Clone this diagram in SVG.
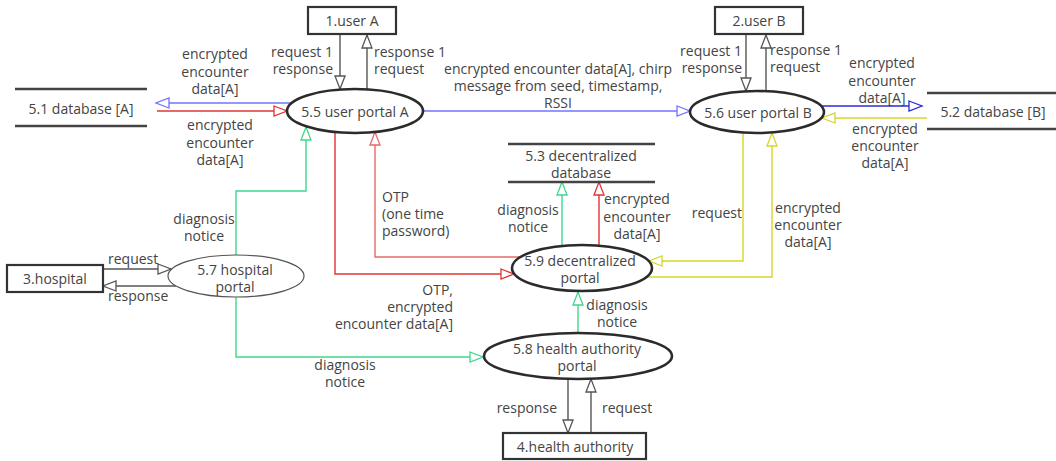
<svg xmlns="http://www.w3.org/2000/svg" width="1056" height="461" viewBox="0 0 1056 461">
  <style>
    text { font-family: "Open Sans", "Liberation Sans", Arial, sans-serif; font-size: 14px; fill: #444; }
    .mid { text-anchor: middle; }
    .end { text-anchor: end; }
    .ent { fill: #fff; stroke: #333; stroke-width: 2.2; }
    .proc { fill: #fff; stroke: #2b2b2b; stroke-width: 2.6; }
    .proc-thin { fill: #fff; stroke: #555; stroke-width: 1.2; }
    .store { stroke: #444; stroke-width: 2.6; }
    .c { fill: none; stroke-width: 1.4; }
    .gray { stroke: #555; marker-end: url(#ah-gray); }
    .blue { stroke: #7373ff; marker-end: url(#ah-blue); }
    .dblue { stroke: #2a2ad6; marker-end: url(#ah-dblue); }
    .red { stroke: #e03434; marker-end: url(#ah-red); }
    .lred { stroke: #e86a6a; marker-end: url(#ah-lred); }
    .green { stroke: #3ed88c; marker-end: url(#ah-green); }
    .yellow { stroke: #d6d62c; marker-end: url(#ah-yellow); }
  </style>
  <defs>
    <marker id="ah-gray" markerUnits="userSpaceOnUse" markerWidth="16" markerHeight="12" refX="14" refY="6" orient="auto"><path d="M1,1 L14,6 L1,11 Z" fill="#fff" stroke="#555" stroke-width="1.3"/></marker>
    <marker id="ah-blue" markerUnits="userSpaceOnUse" markerWidth="16" markerHeight="12" refX="14" refY="6" orient="auto"><path d="M1,1 L14,6 L1,11 Z" fill="#fff" stroke="#7373ff" stroke-width="1.3"/></marker>
    <marker id="ah-dblue" markerUnits="userSpaceOnUse" markerWidth="16" markerHeight="12" refX="14" refY="6" orient="auto"><path d="M1,1 L14,6 L1,11 Z" fill="#fff" stroke="#2a2ad6" stroke-width="1.3"/></marker>
    <marker id="ah-red" markerUnits="userSpaceOnUse" markerWidth="16" markerHeight="12" refX="14" refY="6" orient="auto"><path d="M1,1 L14,6 L1,11 Z" fill="#fff" stroke="#e03434" stroke-width="1.3"/></marker>
    <marker id="ah-lred" markerUnits="userSpaceOnUse" markerWidth="16" markerHeight="12" refX="14" refY="6" orient="auto"><path d="M1,1 L14,6 L1,11 Z" fill="#fff" stroke="#e86a6a" stroke-width="1.3"/></marker>
    <marker id="ah-green" markerUnits="userSpaceOnUse" markerWidth="16" markerHeight="12" refX="14" refY="6" orient="auto"><path d="M1,1 L14,6 L1,11 Z" fill="#fff" stroke="#3ed88c" stroke-width="1.3"/></marker>
    <marker id="ah-yellow" markerUnits="userSpaceOnUse" markerWidth="16" markerHeight="12" refX="14" refY="6" orient="auto"><path d="M1,1 L14,6 L1,11 Z" fill="#fff" stroke="#d6d62c" stroke-width="1.3"/></marker>
  </defs>

  <rect width="1056" height="461" fill="#fff"/>

  <!-- data flows -->
  <g id="connectors">
    <!-- user A <-> portal A -->
    <path class="c gray" d="M340,35 L340,89"/>
    <path class="c gray" d="M367,89 L367,35"/>
    <!-- user B <-> portal B -->
    <path class="c gray" d="M746,35 L746,91"/>
    <path class="c gray" d="M766,91 L766,35"/>
    <!-- hospital <-> hospital portal -->
    <path class="c gray" d="M103,269 L171,269"/>
    <path class="c gray" d="M176,286 L103,286"/>
    <!-- health authority <-> HA portal -->
    <path class="c gray" d="M568,379 L568,433"/>
    <path class="c gray" d="M591,433 L591,379"/>
    <!-- database A <-> portal A -->
    <path class="c blue" d="M291,103 L156,103"/>
    <path class="c red" d="M157,111 L287,111"/>
    <!-- portal A -> portal B -->
    <path class="c blue" d="M423,111 L690,111"/>
    <!-- portal B <-> database B -->
    <path class="c dblue" d="M821,106 L922,106"/>
    <path class="c yellow" d="M927,118 L822,118"/>
    <!-- portal B <-> decentralized portal -->
    <path class="c yellow" d="M743,133 L743,261 L649,261"/>
    <path class="c yellow" d="M646,277 L772,277 L772,133"/>
    <!-- hospital portal -> portal A / HA portal -->
    <path class="c green" d="M236,255 L236,191 L306,191 L306,127"/>
    <path class="c green" d="M236,297 L236,357 L483,357"/>
    <!-- HA portal -> decentralized portal -->
    <path class="c green" d="M578,333 L578,292"/>
    <!-- decentralized portal -> decentralized database -->
    <path class="c green" d="M562,246 L562,182"/>
    <path class="c red" d="M599,246 L599,182"/>
    <!-- portal A <-> decentralized portal -->
    <path class="c red" d="M335,132 L335,274 L514,274"/>
    <path class="c lred" d="M520,257 L375,257 L375,132"/>
  </g>

  <!-- flow labels -->
  <g id="labels">
    <text class="end" x="333" y="57">request 1</text>
    <text class="end" x="333" y="74">response</text>
    <text x="374" y="57">response 1</text>
    <text x="374" y="74">request</text>

    <text class="mid" x="215" y="59">encrypted</text>
    <text class="mid" x="215" y="77">encounter</text>
    <text class="mid" x="215" y="94">data[A]</text>
    <text class="mid" x="220" y="130">encrypted</text>
    <text class="mid" x="220" y="148">encounter</text>
    <text class="mid" x="220" y="165">data[A]</text>

    <text class="mid" x="558" y="74">encrypted encounter data[A], chirp</text>
    <text class="mid" x="558" y="91">message from seed, timestamp,</text>
    <text class="mid" x="558" y="108">RSSI</text>

    <text class="end" x="742" y="56">request 1</text>
    <text class="end" x="742" y="73">response</text>
    <text x="770" y="55">response 1</text>
    <text x="770" y="72">request</text>

    <text class="mid" x="882" y="68">encrypted</text>
    <text class="mid" x="882" y="86">encounter</text>
    <text class="mid" x="882" y="103">data[A]</text>
    <text class="mid" x="885" y="134">encrypted</text>
    <text class="mid" x="885" y="151">encounter</text>
    <text class="mid" x="885" y="168">data[A]</text>

    <text x="382" y="202">OTP</text>
    <text x="382" y="219">(one time</text>
    <text x="382" y="236">password)</text>

    <text class="mid" x="204" y="224">diagnosis</text>
    <text class="mid" x="204" y="241">notice</text>

    <text x="108" y="264">request</text>
    <text x="108" y="301">response</text>

    <text class="end" x="453" y="295">OTP,</text>
    <text class="end" x="453" y="312">encrypted</text>
    <text class="end" x="453" y="329">encounter data[A]</text>

    <text class="mid" x="528" y="215">diagnosis</text>
    <text class="mid" x="528" y="232">notice</text>
    <text class="mid" x="637" y="204">encrypted</text>
    <text class="mid" x="637" y="222">encounter</text>
    <text class="mid" x="637" y="239">data[A]</text>

    <text class="end" x="742" y="218">request</text>
    <text class="mid" x="808" y="213">encrypted</text>
    <text class="mid" x="808" y="230">encounter</text>
    <text class="mid" x="808" y="247">data[A]</text>

    <text class="mid" x="617" y="310">diagnosis</text>
    <text class="mid" x="617" y="327">notice</text>

    <text class="mid" x="345" y="370">diagnosis</text>
    <text class="mid" x="345" y="387">notice</text>

    <text class="end" x="557" y="413">response</text>
    <text x="602" y="413">request</text>
  </g>

  <!-- external entities -->
  <g id="user-a">
    <rect class="ent" x="308" y="7" width="88" height="27"/>
    <text class="mid" x="352" y="26">1.user A</text>
  </g>
  <g id="user-b">
    <rect class="ent" x="715" y="7" width="88" height="27"/>
    <text class="mid" x="759" y="26">2.user B</text>
  </g>
  <g id="hospital">
    <rect class="ent" x="7" y="265" width="96" height="27"/>
    <text class="mid" x="55" y="284">3.hospital</text>
  </g>
  <g id="health-authority">
    <rect class="ent" x="503" y="433" width="143" height="26"/>
    <text class="mid" x="575" y="452">4.health authority</text>
  </g>

  <!-- data stores -->
  <g id="database-a">
    <line class="store" x1="15" y1="89" x2="147" y2="89"/>
    <line class="store" x1="15" y1="126" x2="147" y2="126"/>
    <text class="mid" x="81" y="114">5.1 database [A]</text>
  </g>
  <g id="database-b">
    <line class="store" x1="927" y1="93" x2="1056" y2="93"/>
    <line class="store" x1="927" y1="129" x2="1056" y2="129"/>
    <text class="mid" x="993" y="117">5.2 database [B]</text>
  </g>
  <g id="decentralized-db">
    <line class="store" x1="508" y1="144" x2="655" y2="144"/>
    <line class="store" x1="508" y1="182" x2="655" y2="182"/>
    <text class="mid" x="581" y="161">5.3 decentralized</text>
    <text class="mid" x="581" y="178">database</text>
  </g>

  <!-- processes -->
  <g id="user-portal-a">
    <ellipse class="proc" cx="355" cy="111" rx="68" ry="22"/>
    <text class="mid" x="355" y="117">5.5 user portal A</text>
  </g>
  <g id="user-portal-b">
    <ellipse class="proc" cx="757" cy="112" rx="67" ry="21"/>
    <text class="mid" x="758" y="118">5.6 user portal B</text>
  </g>
  <g id="hospital-portal">
    <ellipse class="proc-thin" cx="236" cy="276" rx="68" ry="21"/>
    <text class="mid" x="235" y="275">5.7 hospital</text>
    <text class="mid" x="235" y="292">portal</text>
  </g>
  <g id="ha-portal">
    <ellipse class="proc" cx="578" cy="356" rx="94" ry="23"/>
    <text class="mid" x="577" y="354">5.8 health authority</text>
    <text class="mid" x="577" y="371">portal</text>
  </g>
  <g id="decentralized-portal">
    <ellipse class="proc" cx="582" cy="268" rx="70" ry="23"/>
    <text class="mid" x="580" y="266">5.9 decentralized</text>
    <text class="mid" x="580" y="283">portal</text>
  </g>
</svg>
